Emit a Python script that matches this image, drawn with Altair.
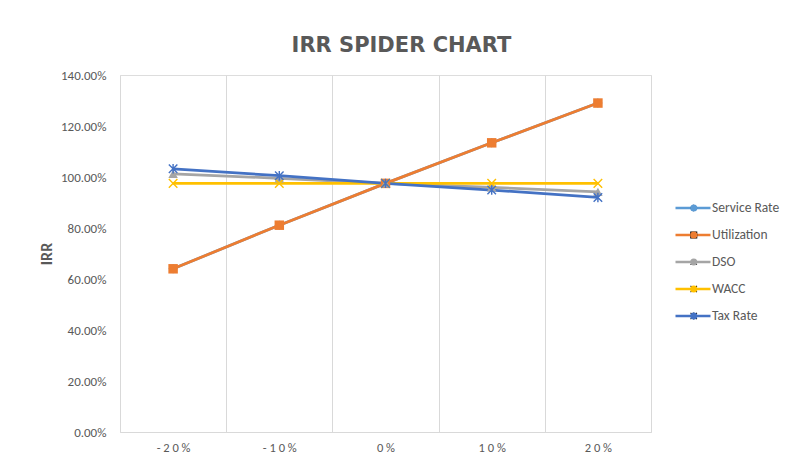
import altair as alt
import pandas as pd

CHANGES = [-20, -10, 0, 10, 20]
SERIES = ["Service Rate", "Utilization", "DSO", "WACC", "Tax Rate"]
SERVICE_RATE = [0.640, 0.811, 0.975, 1.134, 1.290]
UTILIZATION = [0.640, 0.811, 0.975, 1.134, 1.290]
DSO = [1.012, 0.995, 0.975, 0.959, 0.942]
WACC = [0.975, 0.975, 0.975, 0.975, 0.975]
TAX_RATE = [1.032, 1.005, 0.975, 0.949, 0.920]
COLORS = ["#5B9BD5", "#ED7D31", "#A5A5A5", "#FFC000", "#4472C4"]
Y_TICKS = [0, 0.2, 0.4, 0.6, 0.8, 1.0, 1.2, 1.4]

X_PATH = ("M0.794,1.006L1.006,0.794L-0.794,-1.006L-1.006,-0.794Z"
          "M1.006,-0.794L0.794,-1.006L-1.006,0.794L-0.794,1.006Z")
STAR_PATH = X_PATH + "M-0.15,1L0.15,1L0.15,-1L-0.15,-1Z"
SHAPES = ["diamond", "square", "triangle-up", X_PATH, STAR_PATH]

values = [SERVICE_RATE, UTILIZATION, DSO, WACC, TAX_RATE]
rows = []
for s, vals in zip(SERIES, values):
    for c, v in zip(CHANGES, vals):
        rows.append({"change": c, "irr": v, "series": s, "series_m": s})
df = pd.DataFrame(rows)

FONT = "Calibri, Carlito, Roboto, sans-serif"
GREY = "#595959"

x_enc = alt.X(
    "change:Q",
    scale=alt.Scale(domain=[-25, 25], nice=False, zero=False),
    axis=alt.Axis(
        values=[-25, -20, -15, -10, -5, 0, 5, 10, 15, 20, 25],
        grid=True,
        gridColor="#D9D9D9",
        gridWidth=1,
        gridOpacity={"condition": {"test": "abs(datum.value) % 10 == 5", "value": 1}, "value": 0},
        labelExpr="abs(datum.value) % 10 == 0 ? join(split(datum.value + '%', ''), ' ') : ''",
        labelOverlap=False,
        labelFont=FONT,
        labelFontSize=12.5,
        labelColor=GREY,
        labelPadding=9,
        ticks=False,
        domain=True,
        domainColor="#D9D9D9",
        title=None,
    ),
)
y_enc = alt.Y(
    "irr:Q",
    scale=alt.Scale(domain=[0, 1.4], nice=False),
    axis=alt.Axis(
        values=Y_TICKS,
        format=".2%",
        grid=False,
        domain=False,
        ticks=False,
        labelFont=FONT,
        labelFontSize=13,
        labelColor=GREY,
        labelPadding=14,
        title="IRR",
        titleFont=FONT,
        titleFontSize=16,
        titleFontWeight="bold",
        titleColor=GREY,
        titlePadding=6,
    ),
)

lines = alt.Chart(df).mark_line(strokeWidth=2.75).encode(
    x=x_enc,
    y=y_enc,
    stroke=alt.Stroke(
        "series:N",
        sort=SERIES,
        scale=alt.Scale(range=COLORS),
        legend=alt.Legend(
            orient="none", legendX=554, legendY=126, title=None,
            symbolType="stroke", symbolSize=1225, symbolStrokeWidth=2.5,
            clipHeight=14, rowPadding=13, padding=0,
            labelFont=FONT, labelFontSize=13.5, labelColor=GREY, labelOffset=0,
        ),
    ),
)

pt_legend = alt.Legend(
    orient="none", legendX=567, legendY=126, title=None,
    symbolSize=50, symbolStrokeWidth=0, clipHeight=14, rowPadding=13, padding=0,
    labelFont=FONT, labelFontSize=13.5, labelExpr="''",
)
points = alt.Chart(df).mark_point(filled=True, size=90, opacity=1, strokeWidth=0).encode(
    x=x_enc,
    y=y_enc,
    fill=alt.Fill("series_m:N", sort=SERIES, scale=alt.Scale(range=COLORS), legend=pt_legend),
    shape=alt.Shape("series_m:N", sort=SERIES, scale=alt.Scale(range=SHAPES), legend=pt_legend),
)

chart = alt.layer(lines, points).properties(
    width=531,
    height=357,
    autosize=alt.AutoSizeParams(type="none"),
    padding={"left": 120, "top": 75, "right": 134, "bottom": 26},
    title=alt.TitleParams(
        "IRR SPIDER CHART", fontSize=21, font="DejaVu Sans", fontWeight="bold",
        color=GREY, anchor="middle", dx=16, offset=13,
    ),
).configure_view(strokeWidth=0).configure(background="white")

chart.save("out.html", embed_options={"renderer": "svg", "actions": False})
